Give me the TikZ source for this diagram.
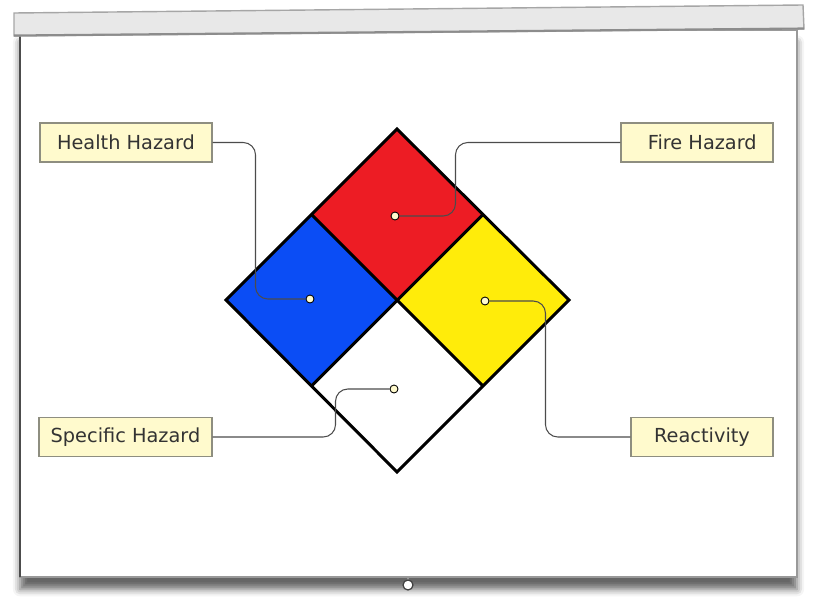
\documentclass[tikz,border=0pt]{standalone}
\usepackage{fontspec}
\setmainfont{DejaVu Sans}
\usepackage{tikz}
\usetikzlibrary{positioning,shadows.blur}
\definecolor{nfpared}{HTML}{ED1C24}
\definecolor{nfpablue}{HTML}{0B4DF5}
\definecolor{nfpayellow}{HTML}{FFEC0A}
\definecolor{tagfill}{HTML}{FFFACD}
\definecolor{tagline}{HTML}{8E8E80}
\definecolor{bargray}{HTML}{E8E8E8}
\begin{document}
\begin{tikzpicture}[x=0.02cm, y=-0.02cm, semithick,
        tag/.style = {draw=tagline, fill=tagfill, rectangle, minimum height=0.78cm, inner sep=2pt,
            text=black!80, font=\fontsize{11}{13}\selectfont, line width=0.6pt},
        spot/.style = {draw=black, fill=tagfill, circle, minimum size=0.16cm, inner sep=0pt, line width=0.5pt},
        conn/.style = {draw=black!70, line width=0.6pt, rounded corners=7pt},
        quad/.style = {draw=black, line width=1.7pt, line join=miter}]
        \useasboundingbox (0,0) rectangle (814,598);

        % screen and bar
        \fill[white, draw=gray!80, line width=0.8pt,
            blur shadow={shadow xshift=0pt, shadow yshift=-7pt, shadow blur radius=4pt, shadow opacity=60}]
            (20,30) rectangle (797,577);
        \draw[black!70, line width=0.8pt] (20,36) -- (20,577);
        \draw[gray!80, line width=0.8pt] (408,577) -- (408,580);
        \draw[black!75, line width=0.7pt, fill=white] (408,585) circle [radius=5];
        \fill[bargray, draw=gray!70, line width=0.8pt]
            (14,13) -- (803,5) -- (804,29) -- (14,36) -- cycle;
        \draw[gray!90, line width=1.2pt] (14,35.5) -- (804,28.5);

        % hazard diamond
        \coordinate (t) at (397,129);
        \coordinate (l) at (226,300);
        \coordinate (r) at (569,300);
        \coordinate (b) at (397,472);
        \coordinate (c) at (397,300);
        \coordinate (tl) at (311.5,214.5);
        \coordinate (tr) at (483,214.5);
        \coordinate (br) at (483,386);
        \coordinate (bl) at (311.5,386);
        \fill[nfpared] (t) -- (tr) -- (c) -- (tl) -- cycle;
        \fill[nfpablue] (l) -- (tl) -- (c) -- (bl) -- cycle;
        \fill[nfpayellow] (r) -- (tr) -- (c) -- (br) -- cycle;
        \fill[white] (b) -- (br) -- (c) -- (bl) -- cycle;
        \draw[quad] (tl) -- (br);
        \draw[quad] (tr) -- (bl);
        \draw[quad] (t) -- (r) -- (b) -- (l) -- cycle;

        \node[tag, minimum width=3.44cm] (health) at (126,142.5) {Health Hazard};
        \node[tag, minimum width=3.04cm] (fire) at (697,142.5) {\hspace{6pt}Fire Hazard};
        \node[tag, minimum width=3.46cm] (specific) at (125.5,437) {Specific Hazard};
        \node[tag, minimum width=2.84cm] (react) at (702,437) {Reactivity};

        \node[spot] (hdot) at (310,299) {};
        \node[spot] (fdot) at (395,216) {};
        \node[spot] (rdot) at (485,301) {};
        \node[spot] (sdot) at (394,389) {};

        \draw[conn] (health.east) -- ++(43,0) |- (hdot);
        \draw[conn] (fire.west) -- ++(-165,0) |- (fdot);
        \draw[conn] (specific.east) -- ++(123,0) |- (sdot);
        \draw[conn] (react.west) -- ++(-85,0) |- (rdot);
    \end{tikzpicture}
\end{document}
